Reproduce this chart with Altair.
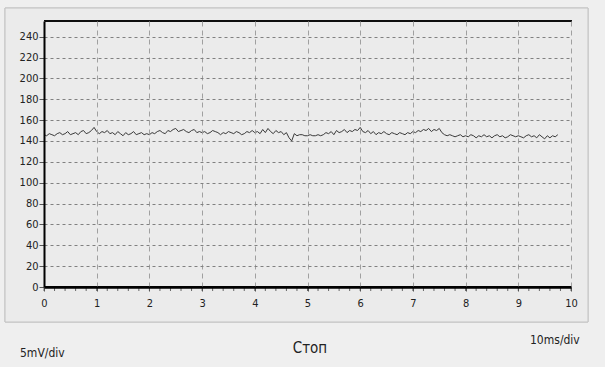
import altair as alt
import pandas as pd

# signal samples (every 0.05 div from 0 to 9.75)
dt = 0.05
values = [
    146,145,147,146,145,147,148,146,147,149,146,147,148,146,149,150,147,148,150,153,
    149,147,149,148,150,147,148,146,149,147,145,148,146,147,149,146,147,148,146,147,
    146,148,147,149,150,148,147,150,149,151,152,149,150,151,149,148,150,151,148,149,
    148,149,147,148,150,149,148,146,148,147,149,148,147,149,148,146,147,149,148,150,
    148,149,147,151,148,152,149,147,150,148,149,146,148,143,140,147,145,146,146,145,
    145,146,145,145,146,145,146,148,147,149,146,150,148,149,151,148,150,149,151,150,
    153,149,148,150,147,149,146,148,147,149,147,146,148,147,146,148,147,146,148,147,
    149,148,150,149,151,150,152,149,151,150,152,148,146,145,146,145,144,145,146,144,
    145,144,146,145,143,145,144,146,144,145,143,145,146,144,145,143,144,146,145,144,
    145,144,143,145,146,144,145,143,146,144,142,145,143,145,144,146,
]
times = [round(i * dt, 2) for i in range(len(values))]

x_ticks = [0, 1, 2, 3, 4, 5, 6, 7, 8, 9, 10]
x_minor = [i / 5 for i in range(51)]
y_ticks = [0, 20, 40, 60, 80, 100, 120, 140, 160, 180, 200, 220, 240]
ch2_x = [0, 10]
ch2_y = [0, 0]

left_label = "5mV/div"
center_label = "Стоп"
right_label = "10ms/div"

FONT = "DejaVu Sans Condensed"
W, H = 527, 266

df = pd.DataFrame({"t": times, "v": values})
df2 = pd.DataFrame({"t": ch2_x, "v": ch2_y})

xscale = alt.Scale(domain=[0, 10], nice=False, zero=False)
yscale = alt.Scale(domain=[0, 255], nice=False)

xaxis = alt.Axis(values=x_ticks, title=None, grid=True, gridDash=[5, 4],
                 gridColor="#a0a0a0", gridWidth=1, domain=True,
                 domainColor="black", domainWidth=2.5, tickSize=4,
                 tickColor="#555", labelFont=FONT, labelFontSize=11,
                 labelColor="#222", labelPadding=6, labelFlush=False,
                 labelOverlap=False, format="d", zindex=1)
yaxis = alt.Axis(values=y_ticks, title=None, grid=True, gridDash=[3, 3],
                 gridColor="#808080", gridWidth=1, domain=True,
                 domainColor="black", domainWidth=2, tickSize=5,
                 tickColor="#555", labelFont=FONT, labelFontSize=11,
                 labelColor="#222", labelPadding=1, labelOverlap=False,
                 format="d", zindex=1)

panel = alt.Chart(df2).mark_rect(fill="#ebebeb", stroke="#c2c2c2", strokeWidth=1).encode(
    x=alt.value(-39), x2=alt.value(544), y=alt.value(-13), y2=alt.value(301)
)

trace = alt.Chart(df).mark_line(color="#3a3a3a", strokeWidth=1).encode(
    x=alt.X("t:Q", scale=xscale, axis=xaxis),
    y=alt.Y("v:Q", scale=yscale, axis=yaxis),
)

minor = alt.Chart(pd.DataFrame({"t": x_minor})).mark_rule(color="#666", strokeWidth=1).encode(
    x=alt.X("t:Q", scale=xscale, axis=xaxis),
    y=alt.value(H + 1), y2=alt.value(H + 4),
)

ch2 = alt.Chart(df2).mark_line(color="black", strokeWidth=2).encode(
    x=alt.X("t:Q", scale=xscale, axis=xaxis), y=alt.Y("v:Q", scale=yscale, axis=yaxis)
)

top_border = alt.Chart(df2).mark_rule(color="black", strokeWidth=1.5).encode(
    x=alt.value(0), x2=alt.value(W + 1), y=alt.value(0)
)

txt = pd.DataFrame({"a": [0]})
t1 = alt.Chart(txt).mark_text(text=left_label, font=FONT, fontSize=12, align="left",
                              baseline="alphabetic", color="#222").encode(
    x=alt.value(-24), y=alt.value(336))
t2 = alt.Chart(txt).mark_text(text=center_label, font=FONT, fontSize=15, align="center",
                              baseline="middle", color="#222").encode(
    x=alt.value(266), y=alt.value(327))
t3 = alt.Chart(txt).mark_text(text=right_label, font=FONT, fontSize=12, align="left",
                              baseline="middle", color="#222").encode(
    x=alt.value(486), y=alt.value(319))

chart = alt.layer(panel, trace, minor, ch2, top_border, t1, t2, t3).properties(
    width=W, height=H,
    padding={"left": 44, "top": 21, "right": 34, "bottom": 80},
    autosize=alt.AutoSizeParams(type="none"),
    background="#efefef",
).configure_view(stroke=None)

chart.save("out.html", embed_options={"renderer": "svg", "actions": False})
